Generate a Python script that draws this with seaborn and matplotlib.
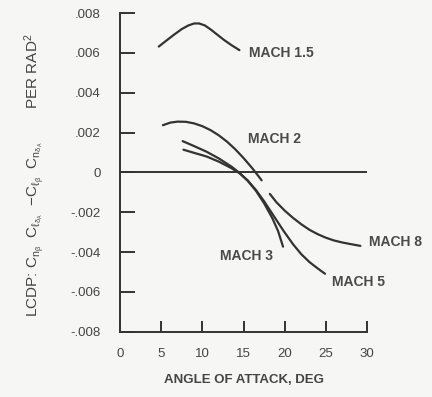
import numpy as np
import pandas as pd
import seaborn as sns
import matplotlib
matplotlib.use("Agg")
import matplotlib.pyplot as plt

# Data
mach15_x = [4.7, 5.5, 6.5, 7.5, 8.3, 9.0, 9.6, 10.3, 11.0, 11.8, 12.6, 13.5, 14.5]
mach15_y = [0.00632, 0.00658, 0.00690, 0.00720, 0.00738, 0.00748, 0.00748, 0.00738, 0.00718, 0.00692, 0.00666, 0.00640, 0.00614]

mach2_x = [5.2, 6.1, 7.0, 8.0, 9.0, 10.0, 11.0, 12.0, 13.0, 14.0, 15.0, 16.0, 16.8, 17.2]
mach2_y = [0.00237, 0.00250, 0.00255, 0.00254, 0.00246, 0.00232, 0.00212, 0.00186, 0.00154, 0.00116, 0.00072, 0.00024, -0.00018, -0.0004]

mach3_x = [7.6, 9.0, 10.5, 12.0, 13.5, 14.5, 15.5, 16.5, 17.5, 18.5, 19.2, 19.8]
mach3_y = [0.00157, 0.00132, 0.00104, 0.00070, 0.00030, -0.00002, -0.00042, -0.00092, -0.00155, -0.00230, -0.00295, -0.00373]

mach5_x = [7.7, 9.0, 10.5, 12.0, 13.5, 14.5, 15.5, 16.5, 17.5, 18.5, 19.8, 21.0, 22.0, 23.0, 24.0, 24.9]
mach5_y = [0.00114, 0.00098, 0.00080, 0.00054, 0.00022, -0.00004, -0.00040, -0.00088, -0.00145, -0.00208, -0.00290, -0.00360, -0.00410, -0.00450, -0.00482, -0.00509]

mach8_x = [18.2, 19.0, 20.0, 21.0, 22.0, 23.0, 24.0, 25.0, 26.0, 27.0, 28.0, 29.2]
mach8_y = [-0.00108, -0.00150, -0.00192, -0.00228, -0.00260, -0.00288, -0.00310, -0.00328, -0.00342, -0.00352, -0.00360, -0.00369]

labels = ["MACH 1.5", "MACH 2", "MACH 3", "MACH 5", "MACH 8"]
label_x = [15.7, 15.5, 12.2, 25.8, 30.2]
label_y = [0.0060, 0.00166, -0.0042, -0.0055, -0.0035]

xticks = [0, 5, 10, 15, 20, 25, 30]
yticks = [-0.008, -0.006, -0.004, -0.002, 0, 0.002, 0.004, 0.006, 0.008]
ytick_labels = ["-.008", "-.006", "-.004", "-.002", "0", ".002", ".004", ".006", ".008"]

frames = []
for name, xs, ys in zip(labels,
                        [mach15_x, mach2_x, mach3_x, mach5_x, mach8_x],
                        [mach15_y, mach2_y, mach3_y, mach5_y, mach8_y]):
    frames.append(pd.DataFrame({"alpha": xs, "lcdp": ys, "curve": name}))
df = pd.concat(frames, ignore_index=True)

sns.set_theme(style="white")
plt.rcParams["font.family"] = ["Liberation Sans", "DejaVu Sans"]
plt.rcParams["mathtext.fontset"] = "custom"
plt.rcParams["mathtext.rm"] = "Liberation Sans"
plt.rcParams["mathtext.it"] = "Liberation Sans:italic"
plt.rcParams["mathtext.bf"] = "Liberation Sans:bold"

ink = "#333333"
txt = "#444444"
bg = "#f6f6f4"

fig = plt.figure(figsize=(4.32, 3.97), dpi=100, facecolor=bg)
ax = fig.add_axes([0.278, 0.1645, 0.5715, 0.8025])
ax.set_facecolor(bg)

sns.lineplot(data=df, x="alpha", y="lcdp", hue="curve", units="curve",
             estimator=None, sort=False, palette=[ink] * 5, linewidth=1.6,
             legend=False, ax=ax)
ax.axhline(0, color=ink, linewidth=1.4, zorder=1)

for t, x, y in zip(labels, label_x, label_y):
    ax.text(x, y, t, fontsize=10, fontweight="bold", color="#4a4a4a",
            ha="left", va="center", clip_on=False)

ax.set_xlim(0, 30)
ax.set_ylim(-0.008, 0.008)
ax.set_xticks(xticks)
ax.set_xticklabels([str(v) for v in xticks])
ax.set_yticks(yticks)
ax.set_yticklabels(ytick_labels)
for s in ["top", "right"]:
    ax.spines[s].set_visible(False)
for s in ["left", "bottom"]:
    ax.spines[s].set_color(ink)
    ax.spines[s].set_linewidth(1.4)
ax.tick_params(axis="y", left=True, direction="in", length=11, width=1.4, color=ink,
               pad=14, labelsize=9.5, labelcolor=txt)
ax.tick_params(axis="x", bottom=True, direction="in", length=8, width=1.4, color=ink,
               pad=12, labelsize=9.5, labelcolor=txt)

ax.set_xlabel("ANGLE OF ATTACK, DEG", fontsize=9.5, fontweight="bold",
              color=txt, labelpad=10)
ax.set_ylabel(r"LCDP: $\mathregular{C_{n_\beta}\ \ C_{\ell_{\delta_A}}\ \ {-}C_{\ell_\beta}\ \ C_{n_{\delta_A}}}$        PER RAD$^2$",
              fontsize=11, color=txt, labelpad=8)
ax.yaxis.set_label_coords(-0.29, 0.49)

fig.savefig("out.png", dpi=100, facecolor=bg)
